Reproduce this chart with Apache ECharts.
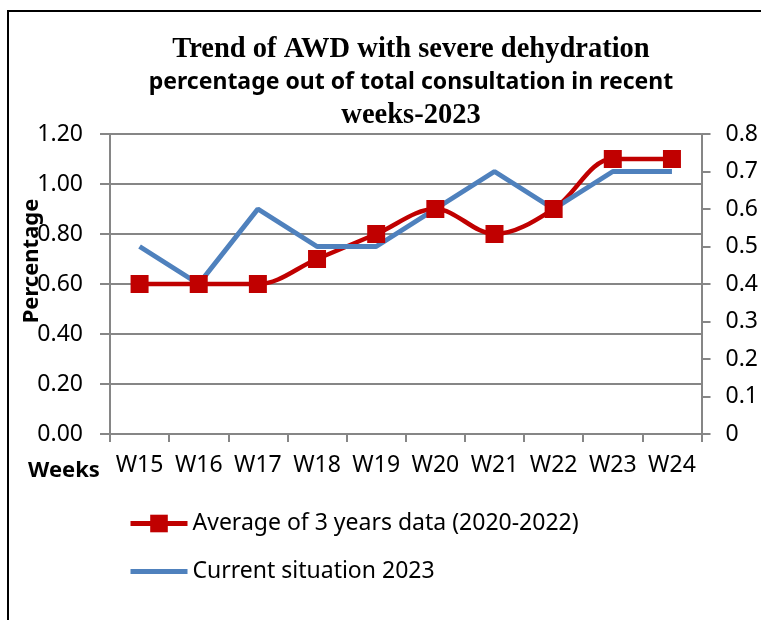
<!DOCTYPE html>
<html>
<head>
<meta charset="utf-8">
<script src="https://cdn.jsdelivr.net/npm/echarts@6/dist/echarts.min.js"></script>
<style>
  html, body { margin: 0; padding: 0; background: #fff; }
  #chart { width: 761px; height: 620px; }
</style>
</head>
<body>
<div id="chart"></div>
<script>
// weeks on the x axis
const weeks = ["W15", "W16", "W17", "W18", "W19", "W20", "W21", "W22", "W23", "W24"];
// left axis - average 2020-2022
const avg3Years = [0.6, 0.6, 0.6, 0.7, 0.8, 0.9, 0.8, 0.9, 1.1, 1.1];
// right axis - 2023
const current2023 = [0.5, 0.4, 0.6, 0.5, 0.5, 0.6, 0.7, 0.6, 0.7, 0.7];

const seriesNames = ["Average of 3 years data (2020-2022)", "Current situation 2023"];

const sans = "'Noto Sans', sans-serif";
const serif = "'Liberation Serif', 'DejaVu Serif', serif";
const grey = "#868686";

const chart = echarts.init(document.getElementById("chart"));

const option = {
  backgroundColor: "#fff",
  animation: false,
  title: {
    left: 406,
    top: 28,
    textAlign: "center",
    text: "{a|Trend of AWD with severe dehydration}\n{b|percentage out of total consultation in recent}\n{a|weeks-2023}",
    textStyle: {
      rich: {
        a: { fontFamily: serif, fontWeight: "bold", fontSize: 28.5, lineHeight: 33, color: "#000" },
        b: { fontFamily: sans, fontWeight: "bold", fontSize: 23, lineHeight: 33, color: "#000" },
      },
    },
  },
  grid: {
    left: 110,
    right: 57,
    top: 134,
    bottom: 186,
  },
  legend: {
    orient: "vertical",
    left: 123,
    top: 507,
    itemWidth: 57,
    itemHeight: 22,
    itemGap: 25,
    data: [
      { name: seriesNames[0], lineStyle: { width: 5 } },
      { name: seriesNames[1], itemStyle: { opacity: 0 }, lineStyle: { width: 5 } },
    ],
    textStyle: { fontFamily: sans, fontSize: 23, color: "#000" },
  },
  xAxis: {
    type: "category",
    data: weeks,
    boundaryGap: true,
    axisLine: { lineStyle: { color: grey, width: 2 } },
    axisTick: { show: true, length: 8, lineStyle: { color: grey, width: 2 } },
    axisLabel: { interval: 0, fontFamily: sans, fontSize: 23, color: "#000", margin: 20 },
  },
  yAxis: [
    {
      type: "value",
      min: 0,
      max: 1.2,
      interval: 0.2,
      axisLine: { show: true, lineStyle: { color: grey, width: 2 } },
      axisTick: { show: true, length: 10, lineStyle: { color: grey, width: 2 } },
      axisLabel: {
        fontFamily: sans,
        fontSize: 23,
        color: "#000",
        margin: 27,
        formatter: (v) => v.toFixed(2),
      },
      splitLine: { lineStyle: { color: grey, width: 2 } },
    },
    {
      type: "value",
      min: 0,
      max: 0.8,
      interval: 0.1,
      position: "right",
      axisLine: { show: true, lineStyle: { color: grey, width: 2 } },
      axisTick: { show: true, length: 9, lineStyle: { color: grey, width: 2 } },
      axisLabel: {
        fontFamily: sans,
        fontSize: 23,
        color: "#000",
        margin: 24,
        formatter: (v) => (v === 0 ? "0" : v.toFixed(1)),
      },
      splitLine: { show: false },
    },
  ],
  series: [
    {
      name: seriesNames[0],
      type: "line",
      yAxisIndex: 0,
      data: avg3Years,
      smooth: 0.35,
      symbol: "rect",
      symbolSize: 18,
      itemStyle: { color: "#C00000" },
      lineStyle: { color: "#C00000", width: 4.5 },
    },
    {
      name: seriesNames[1],
      type: "line",
      yAxisIndex: 1,
      data: current2023,
      symbol: "none",
      itemStyle: { color: "#4F81BD" },
      lineStyle: { color: "#4F81BD", width: 5 },
    },
  ],
  graphic: [
    {
      type: "rect",
      shape: { x: 8, y: 11, width: 800, height: 700 },
      style: { fill: "none", stroke: "#000", lineWidth: 2 },
      silent: true,
    },
    {
      type: "text",
      x: 32,
      y: 261,
      rotation: Math.PI / 2,
      style: {
        text: "Percentage",
        fontFamily: sans,
        fontWeight: "bold",
        fontSize: 22,
        fill: "#000",
        align: "center",
        verticalAlign: "middle",
      },
    },
    {
      type: "text",
      x: 64,
      y: 471,
      style: {
        text: "Weeks",
        fontFamily: sans,
        fontWeight: "bold",
        fontSize: 22,
        fill: "#000",
        align: "center",
        verticalAlign: "middle",
      },
    },
  ],
};

chart.setOption(option);
</script>
</body>
</html>
